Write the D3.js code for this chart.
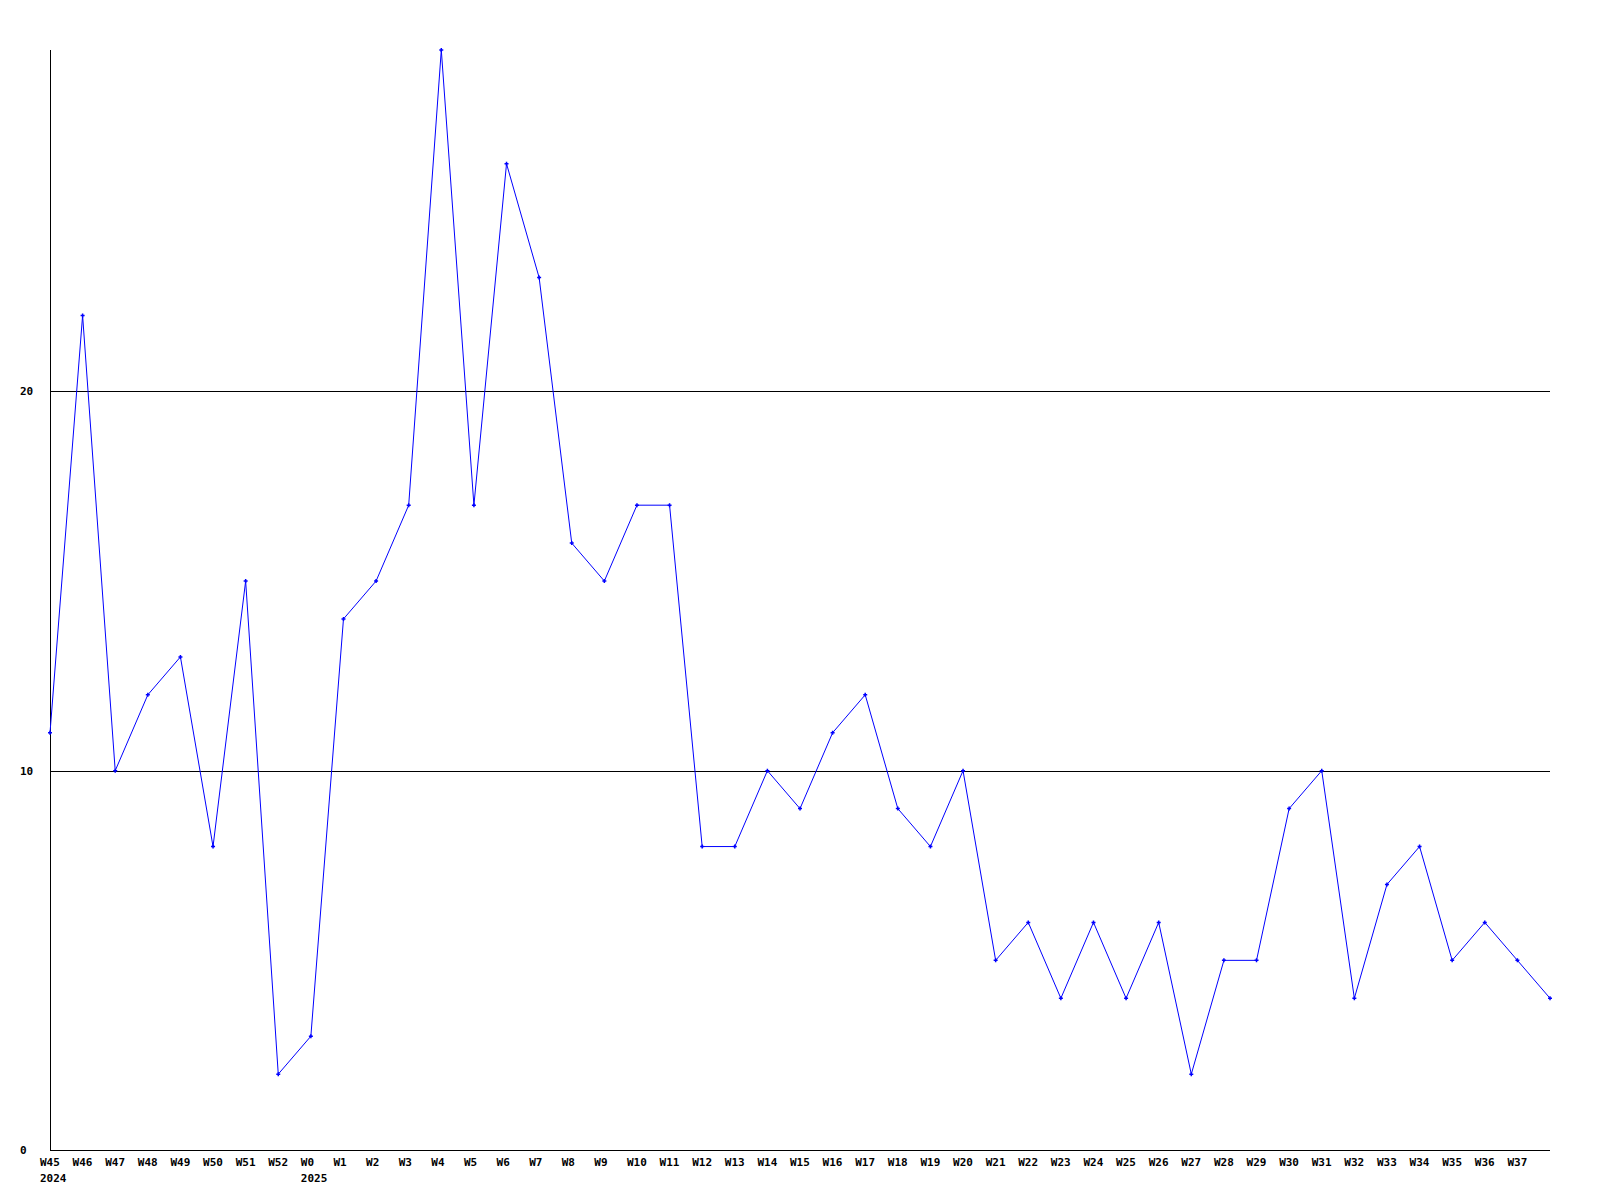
<!DOCTYPE html>
<html>
<head>
<meta charset="utf-8">
<script src="https://cdn.jsdelivr.net/npm/d3@7"></script>
<style>
  html, body { margin: 0; padding: 0; background: #fff; }
  svg { display: block; }
  text { font-family: "DejaVu Sans Mono", monospace; font-weight: bold; font-size: 11px; fill: #000; }
</style>
</head>
<body>
<svg id="chart" width="1600" height="1200"></svg>
<script>
const weeks = ["W45","W46","W47","W48","W49","W50","W51","W52",
  "W0","W1","W2","W3","W4","W5","W6","W7","W8","W9","W10","W11","W12","W13","W14","W15","W16",
  "W17","W18","W19","W20","W21","W22","W23","W24","W25","W26","W27","W28","W29","W30","W31",
  "W32","W33","W34","W35","W36","W37","W38"];
const values = [11,22,10,12,13,8,15,2,
  3,14,15,17,29,17,26,23,16,15,17,17,8,8,10,9,11,
  12,9,8,10,5,6,4,6,4,6,2,5,5,9,10,
  4,7,8,5,6,5,4];
const tickLabels = weeks.slice(0, 46);
const yearLabels = [{week: "W45", year: "2024"}, {week: "W0", year: "2025"}];
const yTicks = [0, 10, 20];
const yMax = 29;

const svg = d3.select("#chart");
const x = d3.scalePoint().domain(weeks).range([50, 1550]);
const y = d3.scaleLinear().domain([0, yMax]).range([1150, 50]);

// gridlines
svg.selectAll("line.grid").data(yTicks.filter(d => d > 0)).enter().append("line")
  .attr("x1", 50).attr("x2", 1550)
  .attr("y1", d => Math.round(y(d)) + 0.5).attr("y2", d => Math.round(y(d)) + 0.5)
  .attr("stroke", "#000").attr("stroke-width", 1);

// axes lines
svg.append("line").attr("x1", 50.5).attr("x2", 50.5).attr("y1", y(yMax)).attr("y2", y(0))
  .attr("stroke", "#000");
svg.append("line").attr("x1", 50).attr("x2", 1550).attr("y1", y(0) + 0.5).attr("y2", y(0) + 0.5)
  .attr("stroke", "#000");

// y labels
svg.selectAll("text.ylab").data(yTicks).enter().append("text")
  .attr("x", 20).attr("y", d => y(d) + 4).text(d => d);

// x labels
svg.selectAll("text.xlab").data(tickLabels).enter().append("text")
  .attr("x", d => x(d) - 10).attr("y", 1166).text(d => d);
svg.selectAll("text.yr").data(yearLabels).enter().append("text")
  .attr("x", d => x(d.week) - 10).attr("y", 1182).text(d => d.year);

// line
const pts = weeks.map((w, i) => [x(w), y(values[i])]);
svg.append("path").attr("d", d3.line()(pts))
  .attr("fill", "none").attr("stroke", "#0000ff").attr("stroke-width", 1);

// markers
svg.selectAll("path.mk").data(pts).enter().append("path")
  .attr("d", d => `M${d[0]-2},${d[1]}L${d[0]+2},${d[1]}M${d[0]},${d[1]-2}L${d[0]},${d[1]+2}`)
  .attr("stroke", "#0000ff").attr("stroke-width", 1.5);
</script>
</body>
</html>
